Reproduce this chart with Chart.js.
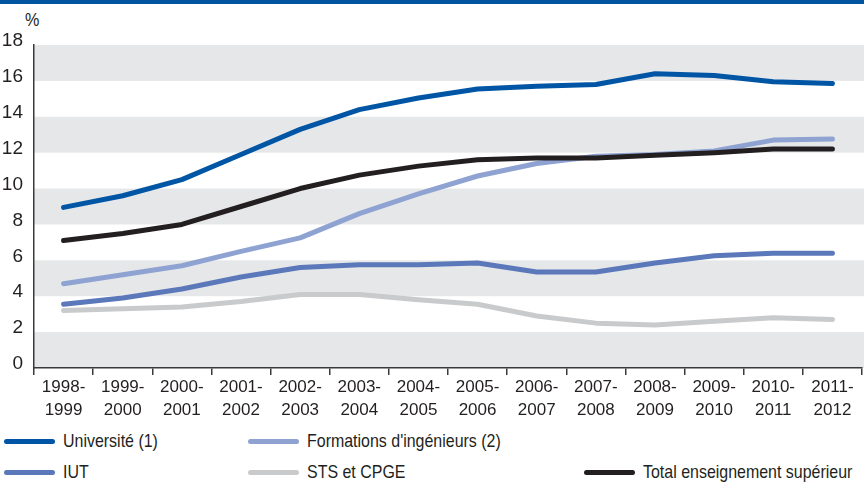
<!DOCTYPE html>
<html>
<head>
<meta charset="utf-8">
<script src="https://cdn.jsdelivr.net/npm/chart.js@4"></script>
<style>
  body { margin: 0; background: #fff; font-family: "Liberation Sans", Arial, sans-serif; color: #231f20; }
  #wrap { position: relative; width: 864px; height: 482px; overflow: hidden; }
  #topbar { position: absolute; left: 0; top: 0; width: 864px; height: 4px; background: #0054a0; }
  #unit { position: absolute; left: 25px; top: 9px; font-size: 19px; transform: scaleX(0.85); transform-origin: left top; }
  #box { position: absolute; left: 0; top: 0; width: 864px; height: 422px; }
  .leg { position: absolute; font-size: 19px; line-height: 20px; white-space: nowrap; }
  .leg span.s { position: absolute; left: 0; top: 8px; width: 51px; height: 5px; border-radius: 3px; }
  .leg span.t { position: absolute; left: 59px; top: 0; transform: scaleX(0.84); transform-origin: left top; }
</style>
</head>
<body>
<div id="wrap">
  <div id="topbar"></div>
  <div id="unit">%</div>
  <div id="box"><canvas id="graf"></canvas></div>
  <div id="legende"></div>
</div>
<script>
// données
const annees = [
  ["1998-", "1999"], ["1999-", "2000"], ["2000-", "2001"], ["2001-", "2002"],
  ["2002-", "2003"], ["2003-", "2004"], ["2004-", "2005"], ["2005-", "2006"],
  ["2006-", "2007"], ["2007-", "2008"], ["2008-", "2009"], ["2009-", "2010"],
  ["2010-", "2011"], ["2011-", "2012"]
];
const universite = [8.95, 9.6, 10.5, 11.9, 13.3, 14.4, 15.05, 15.55, 15.7, 15.8, 16.4, 16.3, 15.95, 15.85];
const ingenieurs = [4.7, 5.2, 5.7, 6.5, 7.25, 8.6, 9.7, 10.7, 11.4, 11.8, 11.9, 12.1, 12.7, 12.76];
const iut = [3.55, 3.9, 4.4, 5.07, 5.6, 5.75, 5.75, 5.85, 5.35, 5.35, 5.85, 6.25, 6.4, 6.4];
const stsCpge = [3.2, 3.3, 3.4, 3.7, 4.1, 4.1, 3.8, 3.55, 2.9, 2.5, 2.4, 2.6, 2.8, 2.7];
const totalSup = [7.1, 7.5, 8.0, 9.0, 10.0, 10.75, 11.25, 11.6, 11.7, 11.7, 11.85, 12.0, 12.2, 12.2];
const graduations = [0, 2, 4, 6, 8, 10, 12, 14, 16, 18];

const police = "'Liberation Sans', Arial, sans-serif";

const series = [
  { nom: "Université (1)", data: universite, couleur: "#0055a4", x: 4, y: 431 },
  { nom: "Formations d'ingénieurs (2)", data: ingenieurs, couleur: "#8fa3d2", x: 248, y: 431 },
  { nom: "IUT", data: iut, couleur: "#5b78ba", x: 4, y: 462 },
  { nom: "STS et CPGE", data: stsCpge, couleur: "#c9cacc", x: 248, y: 462 },
  { nom: "Total enseignement supérieur", data: totalSup, couleur: "#231f20", x: 584, y: 462 }
];

// ordre de dessin : gris d'abord, noir ensuite, bleus par-dessus
const ordre = [3, 4, 2, 1, 0];

// bandes grises horizontales
const bandes = {
  id: "bandes",
  beforeDraw(chart) {
    const { ctx, chartArea, scales } = chart;
    ctx.save();
    ctx.fillStyle = "#e6e7e8";
    for (let v = 0; v < 18; v += 4) {
      const y1 = scales.y.getPixelForValue(v + 2);
      const y0 = scales.y.getPixelForValue(v);
      ctx.fillRect(chartArea.left, y1, chartArea.right - chartArea.left + 4, y0 - y1);
    }
    ctx.restore();
  }
};

new Chart(document.getElementById("graf"), {
  type: "line",
  data: {
    labels: annees,
    datasets: ordre.map(i => ({
      label: series[i].nom,
      data: series[i].data,
      borderColor: series[i].couleur,
      borderWidth: 5,
      borderCapStyle: "round",
      borderJoinStyle: "round",
      pointRadius: 0,
      tension: 0,
      fill: false
    }))
  },
  options: {
    responsive: true,
    maintainAspectRatio: false,
    animation: false,
    layout: { padding: { top: 45, right: 2, left: 0, bottom: 0 } },
    plugins: { legend: { display: false }, tooltip: { enabled: false } },
    scales: {
      x: {
        offset: true,
        grid: { offset: true, drawOnChartArea: false, drawTicks: true, tickLength: 7, color: "#3a3a3a", lineWidth: 1.5 },
        border: { display: true, color: "#3a3a3a", width: 1.5 },
        ticks: { color: "#231f20", font: { family: police, size: 17, lineHeight: 1.4 }, padding: 0, maxRotation: 0, autoSkip: false },
        afterFit(scale) { scale.height = 54; }
      },
      y: {
        min: 0, max: 18,
        afterBuildTicks(scale) { scale.ticks = graduations.map(v => ({ value: v })); },
        grid: { display: false, drawTicks: false },
        border: { display: true, color: "#3a3a3a", width: 1.5 },
        ticks: { color: "#231f20", font: { family: police, size: 19 }, padding: 11, labelOffset: -4 },
        afterFit(scale) { scale.width = 34; }
      }
    }
  },
  plugins: [bandes]
});

// légende placée à la main
const legende = document.getElementById("legende");
series.forEach(s => {
  const d = document.createElement("div");
  d.className = "leg";
  d.style.left = s.x + "px";
  d.style.top = s.y + "px";
  d.innerHTML = `<span class="s" style="background:${s.couleur}"></span><span class="t">${s.nom}</span>`;
  legende.appendChild(d);
});
</script>
</body>
</html>
